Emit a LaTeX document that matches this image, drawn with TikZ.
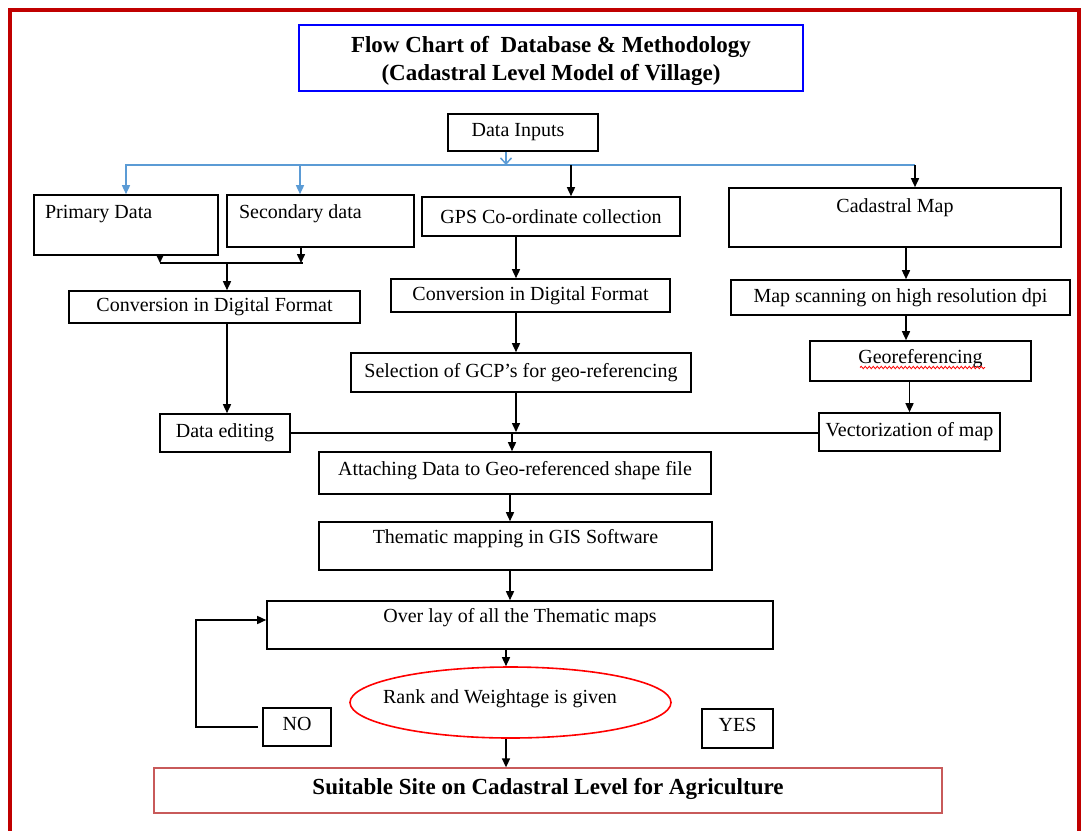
\documentclass[tikz,border=0pt]{standalone}
\usepackage{fontspec}
\setmainfont{Liberation Serif}
\usetikzlibrary{arrows.meta,shapes.geometric,decorations.pathmorphing}
\definecolor{busblue}{RGB}{91,155,213}
\definecolor{framered}{RGB}{192,0,0}
\definecolor{endred}{RGB}{200,90,90}
\tikzset{
	box/.style={draw, line width=1.6pt, inner xsep=6pt, inner ysep=0pt, font=\fontsize{20}{24}\selectfont},
	arr/.style={line width=1.5pt, -{Triangle[length=9pt,width=8pt]}},
	busline/.style={line width=1.5pt, busblue},
	busarr/.style={busline, -{Triangle[length=9pt,width=8pt]}}
}

\begin{document}
\begin{tikzpicture}[x=1pt, y=-1pt]
			%%%%% FRAME %%%%%
			\useasboundingbox (0,0) rectangle (1083,830);
			\draw[line width=4pt, framered] (10,840) -- (10,10) -- (1079,10) -- (1079,840);
			
			%%%%% BOXES %%%%%
			\node[box, draw=blue, line width=1.8pt, minimum width=504, minimum height=66, align=center, font=\bfseries\fontsize{23}{28}\selectfont] (title) at (551,58) {\rule{0pt}{22pt}Flow Chart of~ Database \& Methodology\\(Cadastral Level Model of Village)};
			\node[box, minimum width=150, minimum height=37] (inputs) at (523,132.5) {Data Inputs\hspace*{10pt}};
			
			\node[box, inner xsep=11pt, text width=162pt, align=flush left, minimum height=60, text height=23.5pt, text depth=36.5pt] (primary) at (126,225) {Primary Data};
			\node[box, inner xsep=12pt, text width=163pt, align=flush left, minimum height=52, text height=23.5pt, text depth=28.5pt] (secondary) at (320.5,221) {Secondary data};
			\node[box, minimum width=258, minimum height=39] (gps) at (551,216.5) {GPS Co-ordinate collection};
			\node[box, minimum width=332, minimum height=59, text height=24pt, text depth=35pt] (cadastral) at (895,217.5) {Cadastral Map};
			
			\node[box, minimum width=291, minimum height=32] (convL) at (214.5,307) {Conversion in Digital Format};
			\node[box, minimum width=279, minimum height=33] (convM) at (530.5,295.5) {Conversion in Digital Format};
			\node[box, minimum width=339, minimum height=35] (mapscan) at (900.5,297.5) {Map scanning on high resolution dpi};
			\node[box, minimum width=340, minimum height=39] (gcp) at (521,372.5) {Selection of GCP’s for geo-referencing};
			\node[box, minimum width=221, minimum height=40, text height=22pt, text depth=18pt] (georef) at (920.5,361) {Georeferencing};
			\draw[red, line width=0.8pt, decorate, decoration={snake, amplitude=1.2pt, segment length=4pt}] ([xshift=-60.5pt, yshift=-6.5pt]georef.center) -- ([xshift=64.5pt, yshift=-6.5pt]georef.center);
			\node[box, minimum width=130, minimum height=38] (editing) at (225,433) {Data editing};
			\node[box, minimum width=181, minimum height=38] (vector) at (909.5,432) {Vectorization of map};
			
			\node[box, minimum width=392, minimum height=42, text height=23pt, text depth=19pt] (attach) at (515,473) {Attaching Data to Geo-referenced shape file};
			\node[box, minimum width=393, minimum height=48, text height=21pt, text depth=27pt] (thematic) at (515.5,546) {Thematic mapping in GIS Software};
			\node[box, minimum width=506, minimum height=48, text height=21pt, text depth=27pt] (overlay) at (520,625) {Over lay of all the Thematic maps};
			\node[box, ellipse, draw=red, minimum width=321, minimum height=71, text height=14pt, text depth=13pt] (rank) at (510.5,702.5) {\makebox[0pt][c]{Rank and Weightage is given\hspace*{21pt}}};
			\node[box, minimum width=68, minimum height=38, text height=14pt, text depth=8pt] (no) at (297,727) {NO};
			\node[box, minimum width=71, minimum height=39, text height=14pt, text depth=8pt] (yes) at (737.5,728.5) {YES};
			\node[box, draw=endred, line width=1.3pt, minimum width=788, minimum height=45, text height=17pt, text depth=10pt, font=\bfseries\fontsize{23}{28}\selectfont] (final) at (548,790.5) {Suitable Site on Cadastral Level for Agriculture};
			
			%%%%% CONNECTORS %%%%%
			\coordinate (bus) at (506,165);
			\coordinate (busS) at (300,165);
			\coordinate (busG) at (571,165);
			\coordinate (busR) at (915,165);
			\draw[busline, -{Straight Barb[length=6pt,width=11pt]}] (inputs.south -| bus) -- (bus);
			\draw[busarr] (bus) -| (primary.north);
			\draw[busarr] (busS) -- (busS |- secondary.north);
			\draw[busline] (bus) -- (busR);
			\draw[arr] (busG) -- (busG |- gps.north);
			\draw[arr] (busR) -- (busR |- cadastral.north);
			
			\coordinate (mergeA) at (160,263);
			\coordinate (mergeB) at (301,263);
			\coordinate (mergeC) at (227,263);
			\draw[arr] (primary.south -| mergeA) -- (mergeA);
			\draw[arr] (secondary.south -| mergeB) -- (mergeB);
			\draw[line width=1.5pt] (mergeA) -- ([xshift=2pt]mergeB);
			\draw[arr] (mergeC) -- (mergeC |- convL.north);
			\draw[arr] (mergeC |- convL.south) -- (mergeC |- editing.north);
			
			\coordinate (midcol) at (516,432);
			\draw[arr] (gps.south -| midcol) -- (convM.north -| midcol);
			\draw[arr] (convM.south -| midcol) -- (gcp.north -| midcol);
			\draw[arr] (gcp.south -| midcol) -- (midcol);
			\draw[line width=1.5pt] (editing.east) -- (editing.east -| vector.west);
			\draw[arr] ([xshift=-3pt]attach.north |- midcol) -- ([xshift=-3pt]attach.north);
			
			\draw[arr] ([xshift=11pt]cadastral.south) -- ([xshift=11pt]cadastral.south |- mapscan.north);
			\draw[arr] ([xshift=5.5pt]mapscan.south) -- ([xshift=5.5pt]mapscan.south |- georef.north);
			\draw[arr] (vector.north |- georef.south) -- (vector.north);
			
			\draw[arr] ([xshift=-5pt]attach.south) -- ([xshift=-5pt]attach.south |- thematic.north);
			\draw[arr] ([xshift=-5.5pt]thematic.south) -- ([xshift=-5.5pt]thematic.south |- overlay.north);
			\draw[arr] ([xshift=-4.5pt]rank.north |- overlay.south) -- ([xshift=-4.5pt]rank.north);
			\draw[arr] ([xshift=-4.5pt]rank.south) -- ([xshift=-4.5pt]rank.south |- final.north);
			
			\coordinate (loopA) at (196,727);
			\coordinate (loopB) at (196,620);
			\draw[arr] ([xshift=-4pt]no.west) -- (loopA) -- (loopB) -- (loopB -| overlay.west);
			%%%%% END %%%%%
\end{tikzpicture}
\end{document}
